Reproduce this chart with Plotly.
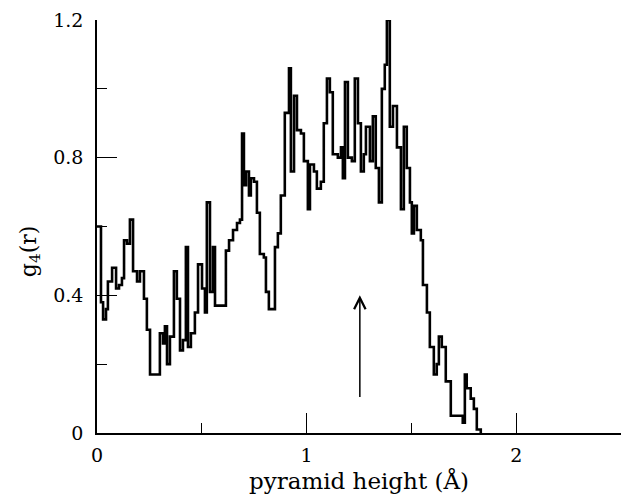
import plotly.graph_objects as go

# Histogram bin left edges (pyramid height, Å) and g4(r) values
bin_edges = [0.000, 0.019, 0.029, 0.043, 0.052, 0.072, 0.091, 0.105, 0.119, 0.129,
             0.143, 0.157, 0.172, 0.191, 0.205, 0.224, 0.238, 0.253, 0.300, 0.315,
             0.324, 0.334, 0.348, 0.367, 0.381, 0.396, 0.410, 0.424, 0.434, 0.448,
             0.467, 0.482, 0.501, 0.515, 0.524, 0.539, 0.553, 0.563, 0.615, 0.630,
             0.649, 0.668, 0.682, 0.692, 0.701, 0.711, 0.725, 0.734, 0.749, 0.763,
             0.777, 0.796, 0.806, 0.820, 0.849, 0.863, 0.877, 0.896, 0.916, 0.925,
             0.940, 0.954, 0.973, 0.987, 1.006, 1.016, 1.035, 1.049, 1.068, 1.082,
             1.097, 1.111, 1.125, 1.149, 1.164, 1.173, 1.183, 1.197, 1.216, 1.230,
             1.245, 1.259, 1.273, 1.283, 1.302, 1.316, 1.330, 1.345, 1.359, 1.373,
             1.383, 1.397, 1.412, 1.431, 1.450, 1.464, 1.478, 1.493, 1.502, 1.512,
             1.526, 1.545, 1.555, 1.574, 1.588, 1.607, 1.621, 1.631, 1.645, 1.664,
             1.688, 1.745, 1.755, 1.764, 1.783, 1.798, 1.812]
g4_values = [0.60, 0.38, 0.33, 0.36, 0.44, 0.48, 0.42, 0.43, 0.45, 0.56,
             0.55, 0.62, 0.47, 0.44, 0.47, 0.39, 0.30, 0.17, 0.29, 0.26,
             0.31, 0.20, 0.28, 0.47, 0.39, 0.24, 0.27, 0.54, 0.25, 0.29,
             0.35, 0.49, 0.42, 0.35, 0.67, 0.41, 0.54, 0.37, 0.53, 0.56,
             0.59, 0.61, 0.62, 0.87, 0.72, 0.76, 0.69, 0.74, 0.73, 0.64,
             0.52, 0.51, 0.41, 0.36, 0.54, 0.58, 0.69, 0.93, 1.06, 0.76,
             0.98, 0.88, 0.87, 0.79, 0.65, 0.78, 0.76, 0.71, 0.73, 0.90,
             1.03, 0.99, 0.81, 0.80, 0.83, 0.74, 1.02, 0.80, 0.79, 1.03,
             0.90, 0.76, 0.81, 0.89, 0.79, 0.92, 0.77, 0.67, 1.00, 1.07,
             1.20, 0.89, 0.95, 0.83, 0.65, 0.89, 0.77, 0.67, 0.58, 0.66,
             0.59, 0.56, 0.43, 0.35, 0.25, 0.17, 0.20, 0.28, 0.25, 0.15,
             0.05, 0.03, 0.17, 0.13, 0.10, 0.07, 0.01]
end_edge = 1.831

x_major = [0, 1, 2]
x_minor = [0.5, 1.5, 2.5]
y_major = [0, 0.4, 0.8, 1.2]
y_major_labels = ["0", "0.4", "0.8", "1.2"]
y_minor = [0.2, 0.6, 1.0]

arrow_x = 1.254
arrow_tail = 0.10
arrow_head = 0.40

xs = bin_edges + [end_edge, end_edge]
ys = g4_values + [g4_values[-1], 0.0]

fig = go.Figure()
fig.add_trace(go.Scatter(x=xs, y=ys, mode="lines", line_shape="hv",
                         line=dict(color="black", width=2.6), showlegend=False))

fig.add_annotation(x=arrow_x, y=arrow_head, ax=arrow_x, ay=arrow_tail,
                   xref="x", yref="y", axref="x", ayref="y", text="",
                   showarrow=True, arrowhead=5, arrowsize=1.5, arrowwidth=1.5,
                   arrowcolor="black")

# y-axis title placed as an annotation for exact positioning
fig.add_annotation(text="g<sub>4</sub>(r)", xref="paper", yref="paper",
                   x=-0.128, y=0.44, xanchor="center", yanchor="middle",
                   textangle=-90, showarrow=False,
                   font=dict(family="DejaVu Serif", size=22, color="black"))

font_family = "DejaVu Serif"
fig.update_layout(
    width=622, height=496,
    margin=dict(l=97, r=1, t=20, b=63),
    plot_bgcolor="white", paper_bgcolor="white",
    font=dict(family=font_family, color="black", size=18),
    xaxis=dict(range=[0, 2.5], showline=True, linecolor="black", linewidth=1.5,
               ticks="inside", ticklen=20, tickwidth=1.2, tickcolor="black",
               tickvals=x_major, ticktext=[str(v) for v in x_major],
               minor=dict(tickvals=x_minor, ticks="inside", ticklen=10,
                          tickwidth=1.2, tickcolor="black"),
               showgrid=False, zeroline=False, ticklabelstandoff=4,
               tickfont=dict(size=19),
               title=dict(text="pyramid height (Å)", font=dict(size=23), standoff=8)),
    yaxis=dict(range=[0, 1.2], showline=True, linecolor="black", linewidth=1.5,
               ticks="inside", ticklen=20, tickwidth=1.2, tickcolor="black",
               tickvals=y_major, ticktext=y_major_labels,
               minor=dict(tickvals=y_minor, ticks="inside", ticklen=10,
                          tickwidth=1.2, tickcolor="black"),
               showgrid=False, zeroline=False, ticklabelstandoff=8,
               tickfont=dict(size=19)),
)

fig.write_html("out.html")
